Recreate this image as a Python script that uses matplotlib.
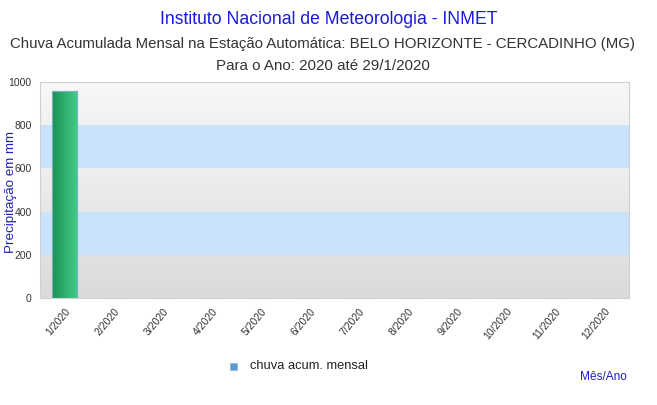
import matplotlib
matplotlib.use("Agg")
import matplotlib.pyplot as plt
import numpy as np
from matplotlib.patches import Rectangle

plt.rcParams['font.family'] = ['Liberation Sans', 'DejaVu Sans']

months = ["1/2020", "2/2020", "3/2020", "4/2020", "5/2020", "6/2020",
          "7/2020", "8/2020", "9/2020", "10/2020", "11/2020", "12/2020"]
values = [958, 0, 0, 0, 0, 0, 0, 0, 0, 0, 0, 0]
yticks = [0, 200, 400, 600, 800, 1000]
band_colors = ["#dadada", "#c9e3fb", "#e7e7e7", "#c9e3fb", "#f1f1f1"]

W, H = 657, 405
fig = plt.figure(figsize=(W / 100, H / 100), dpi=100)
ax = fig.add_axes([40 / W, 1 - 298 / H, 589 / W, 216 / H])

x = np.arange(len(months))
ax.set_xlim(-0.5, len(months) - 0.5)
ax.set_ylim(0, 1000)

# background bands
for i in range(len(yticks) - 1):
    lo, hi = yticks[i], yticks[i + 1]
    if band_colors[i] in ("#dadada", "#e7e7e7", "#f1f1f1"):
        base = np.array(matplotlib.colors.to_rgb(band_colors[i]))
        grad = np.linspace(0, 0.03, 50)[:, None, None]
        img = np.clip(base[None, None, :] + grad, 0, 1)
        ax.imshow(img, extent=(-0.5, len(months) - 0.5, lo, hi), origin="lower",
                  aspect="auto", zorder=0)
    else:
        ax.axhspan(lo, hi, color=band_colors[i], zorder=0, lw=0)

# bars with horizontal gradient
bw = 0.51
bars = ax.bar(x, values, width=bw, color="#2fb070", edgecolor="#7fb0c0", lw=0.8, zorder=2)
cmap = matplotlib.colors.LinearSegmentedColormap.from_list("g", ["#1c9156", "#42cd86"])
for b, v in zip(bars, values):
    if v > 0:
        im = ax.imshow(np.linspace(0, 1, 100)[None, :], cmap=cmap,
                       extent=(b.get_x(), b.get_x() + b.get_width(), 0, v),
                       aspect="auto", zorder=2.5)
        im.set_clip_path(b)
        ax.add_patch(Rectangle((b.get_x(), 0), b.get_width(), v, fill=False,
                               edgecolor="#7fb0c0", lw=0.8, zorder=3))

ax.set_xlim(-0.5, len(months) - 0.5)
ax.set_ylim(0, 1000)
ax.set_xticks(x)
ax.set_xticklabels(months, rotation=50, ha="right", rotation_mode="anchor",
                   fontsize=7.5, color="#333333")
ax.set_yticks(yticks)
ax.set_yticklabels([str(t) for t in yticks], fontsize=7.5, color="#333333")
ax.tick_params(length=0, pad=6)
for s in ax.spines.values():
    s.set_color("#d0d0d0")
    s.set_linewidth(0.8)

fig.text(11 / W, 1 - 192 / H, "Precipitação em mm", rotation=90, color="#2020c0",
         fontsize=9.6, ha="center", va="center")

fig.text(0.5, 1 - 20 / H, "Instituto Nacional de Meteorologia - INMET", color="#1a1adb",
         fontsize=12.7, ha="center", va="center")
fig.text(322 / W, 1 - 44 / H,
         "Chuva Acumulada Mensal na Estação Automática: BELO HORIZONTE - CERCADINHO (MG)",
         color="#333333", fontsize=10.85, ha="center", va="center")
fig.text(323 / W, 1 - 66 / H, "Para o Ano: 2020 até 29/1/2020", color="#333333",
         fontsize=10.9, ha="center", va="center")

fig.patches.append(Rectangle((230 / W, 1 - 370 / H), 7 / W, 7 / H, transform=fig.transFigure,
                             facecolor="#5b9bd5", edgecolor="#8fb0d0", lw=0.5))
fig.text(250 / W, 1 - 366 / H, "chuva acum. mensal", color="#222222", fontsize=9.3,
         ha="left", va="center")
fig.text(627 / W, 1 - 377 / H, "Mês/Ano", color="#2020c0", fontsize=8.6,
         ha="right", va="center")

fig.savefig("out.png", dpi=100)
